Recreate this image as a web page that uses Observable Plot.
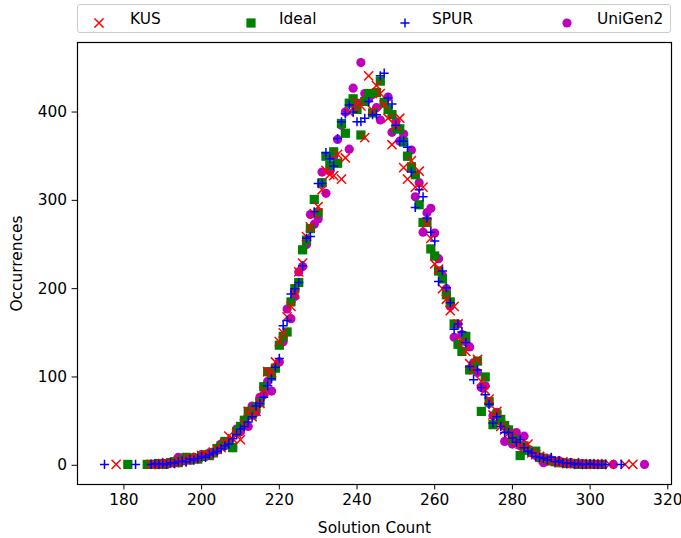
<!DOCTYPE html>
<html><head><meta charset="utf-8">
<script src="https://cdn.jsdelivr.net/npm/d3@7"></script>
<script src="https://cdn.jsdelivr.net/npm/@observablehq/plot@0.6"></script>
<style>
body{margin:0;background:#fff;font-family:"DejaVu Sans",sans-serif;}
#wrap{position:relative;width:681px;height:538px;overflow:hidden;}
#legendbox{position:absolute;left:77px;top:4px;width:592px;height:27px;border:1px solid #cccccc;border-radius:3px;background:#fff;z-index:2;}
.lt{position:absolute;top:4px;height:29px;display:flex;align-items:center;font-size:15.4px;color:#000;z-index:3;white-space:nowrap;}
.lm{position:absolute;top:13px;width:10px;height:10px;z-index:3;}
</style></head>
<body><div id="wrap"><div id="legendbox"></div></div>
<script>
// Legend / series names
const seriesNames = ["KUS", "Ideal", "SPUR", "UniGen2"];

// Tick values
const xTicks = [180, 200, 220, 240, 260, 280, 300, 320];
const yTicks = [0, 100, 200, 300, 400];

// KUS: occurrences for solution counts 187..305
const kusStart = 187;
const kusY = [
  1,1,1,2,3,2,3,5,4,6,
  8,7,9,11,12,12,15,18,20,25,
  33,30,36,29,47,61,55,61,70,84,
  106,105,117,140,150,168,180,194,219,229,
  259,270,285,293,312,334,329,328,352,324,
  348,400,405,411,407,371,441,402,430,421,
  408,393,363,385,393,337,324,345,315,333,
  315,274,257,228,222,200,188,175,180,160,
  140,129,115,108,120,95,85,75,57,61,
  44,40,36,33,27,24,20,24,14,12,
  10,7,8,5,5,3,4,2,2,3,
  1,2,1,1,1,2,1,null,1
];
const kusExtraX = [178, 309, 311];
const kusExtraY = [1, 1, 1];

// Ideal: occurrences for solution counts 186..303
const idealStart = 186;
const idealY = [
  1,1,1,2,1,2,3,4,3,6,
  9,6,8,7,10,12,11,14,19,22,
  27,24,20,38,44,51,61,57,66,71,
  89,106,101,110,136,146,151,185,200,207,
  244,255,268,301,286,320,350,340,355,342,
  387,376,410,415,403,374,412,421,399,422,
  435,411,403,397,381,381,366,350,338,329,
  295,275,275,245,237,220,211,193,185,160,
  137,129,146,108,112,118,61,100,72,46,
  58,52,45,40,30,28,11,22,17,15,
  16,9,8,7,5,4,3,3,2,2,
  2,1,1,1,1,1,null,1
];
const idealExtraX = [181];
const idealExtraY = [1];

// SPUR: occurrences for solution counts 187..304
const spurStart = 187;
const spurY = [
  1,2,1,2,1,3,2,4,5,4,
  7,6,8,10,9,12,14,16,19,22,
  24,30,35,41,44,49,55,67,70,77,
  90,98,111,121,158,164,194,200,207,226,
  257,259,287,319,319,354,347,339,370,389,
  398,408,400,389,389,393,412,397,397,441,
  444,416,409,385,367,367,360,332,292,312,
  304,280,264,254,208,220,201,184,154,160,
  151,139,112,97,108,88,80,69,48,55,
  44,37,37,31,26,29,20,16,14,10,
  9,8,6,9,4,5,3,2,3,1,
  2,1,1,2,1,1,1,1
];
const spurExtraX = [175, 183, 308];
const spurExtraY = [1, 1, 1];

// UniGen2: occurrences for solution counts 188..302
const uniStart = 188;
const uniY = [
  1,1,2,1,3,4,9,5,7,6,
  9,8,12,10,14,15,17,24,22,27,
  20,41,38,47,44,67,60,77,80,95,
  84,110,117,140,177,166,191,219,225,250,
  284,273,279,332,308,333,350,369,385,400,
  358,427,410,456,421,415,420,405,391,410,
  417,377,389,367,375,350,357,304,320,264,
  286,291,263,234,215,200,180,145,160,148,
  140,134,116,105,88,90,70,56,60,50,
  27,40,24,37,22,33,18,14,11,8,
  3,7,6,4,5,3,2,3,2,1,
  2,1,1,1,1
];
const uniExtraX = [306, 314];
const uniExtraY = [1, 1];

function table(start, ys, ex, ey) {
  const rows = [];
  ys.forEach((y, i) => { if (y != null) rows.push({x: start + i, y}); });
  ex.forEach((x, i) => rows.push({x, y: ey[i]}));
  return rows;
}
const kus = table(kusStart, kusY, kusExtraX, kusExtraY);
const ideal = table(idealStart, idealY, idealExtraX, idealExtraY);
const spur = table(spurStart, spurY, spurExtraX, spurExtraY);
const uni = table(uniStart, uniY, uniExtraX, uniExtraY);

const C = {KUS: "#ff0000", Ideal: "#008000", SPUR: "#0000ff", UniGen2: "#bf00bf"};

const chart = Plot.plot({
  width: 681, height: 538,
  marginLeft: 77, marginRight: 10, marginTop: 42, marginBottom: 54,
  style: {fontFamily: "'DejaVu Sans', sans-serif", fontSize: "15.4px", color: "black", background: "white", overflow: "visible"},
  x: {domain: [168.05, 320.95], ticks: xTicks, tickSize: 5.4, tickPadding: 4.5, tickFormat: d => String(d),
      label: "Solution Count", labelAnchor: "center", labelOffset: 48, labelArrow: "none"},
  y: {domain: [-21.75, 478.75], ticks: yTicks, tickSize: 5.4, tickPadding: 5, tickFormat: d => String(d),
      label: "Occurrences", labelAnchor: "center", labelOffset: 66, labelArrow: "none"},
  marks: [
    Plot.dot(uni, {x: "x", y: "y", symbol: "circle", r: 4.6, fill: C.UniGen2, stroke: "none"}),
    Plot.dot(ideal, {x: "x", y: "y", symbol: "square", r: 5.2, fill: C.Ideal, stroke: "none"}),
    Plot.dot(kus, {x: "x", y: "y", symbol: "times", r: 4.25, stroke: C.KUS, strokeWidth: 1.5, fill: "none"}),
    Plot.dot(spur, {x: "x", y: "y", symbol: "plus", r: 3.05, stroke: C.SPUR, strokeWidth: 1.5, fill: "none"}),
    Plot.frame({stroke: "black", strokeWidth: 1.2})
  ]
});
chart.style.position = "absolute";
chart.style.left = "0px";
chart.style.top = "0px";
const wrap = document.getElementById("wrap");
wrap.appendChild(chart);

// Legend
const markerX = [99, 251, 405, 567];
const textX = [130, 279, 432, 597];
const shapes = {
  KUS: `<path d="M0.4,0.4L9.6,9.6M0.4,9.6L9.6,0.4" stroke="${C.KUS}" stroke-width="1.5" fill="none"/>`,
  Ideal: `<rect x="0.4" y="0.4" width="9.2" height="9.2" fill="${C.Ideal}"/>`,
  SPUR: `<path d="M0.4,5H9.6M5,0.4V9.6" stroke="${C.SPUR}" stroke-width="1.5" fill="none"/>`,
  UniGen2: `<circle cx="5" cy="5" r="4.6" fill="${C.UniGen2}"/>`
};
seriesNames.forEach((name, i) => {
  const m = document.createElement("div");
  m.className = "lm";
  m.style.left = (markerX[i] - 5) + "px";
  m.innerHTML = `<svg width="10" height="10" viewBox="0 0 10 10">${shapes[name]}</svg>`;
  wrap.appendChild(m);
  const t = document.createElement("div");
  t.className = "lt";
  t.style.left = textX[i] + "px";
  t.textContent = name;
  wrap.appendChild(t);
});
</script>
</body></html>
